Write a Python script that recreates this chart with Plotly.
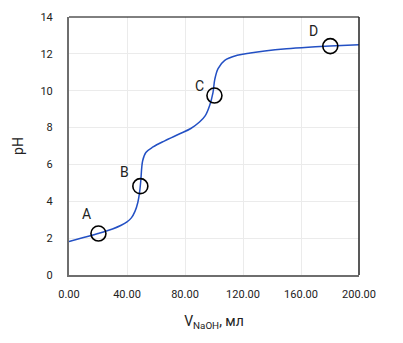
import plotly.graph_objects as go

# Titration curve
v_naoh = [0, 10, 20, 30, 36, 40, 43, 45.5, 47.5, 48.7, 49.5, 50.8, 53, 58, 66, 76, 84, 90,
          94, 97, 99.3, 100.5, 102.8, 107.4, 116, 125, 135, 150, 165, 180, 200]
ph = [1.81, 2.03, 2.25, 2.5, 2.7, 2.88, 3.1, 3.45, 3.95, 4.5, 5.1, 6.2, 6.65, 6.95, 7.28,
      7.65, 7.95, 8.3, 8.65, 9.2, 9.9, 10.6, 11.2, 11.65, 11.92, 12.05, 12.16, 12.28,
      12.36, 12.42, 12.5]

# Marked points
pt_labels = ["A", "B", "C", "D"]
pt_x = [20.3, 49.2, 100.3, 180.2]
pt_y = [2.25, 4.82, 9.74, 12.42]

x_ticks = [0, 40, 80, 120, 160, 200]
x_ticktext = ["0.00", "40.00", "80.00", "120.00", "160.00", "200.00"]
y_ticks = [0, 2, 4, 6, 8, 10, 12, 14]

FONT = "Roboto, Arial, sans-serif"
# label pixel offsets relative to each marker (style only)
label_shift = [(-12, 20), (-16, 14), (-15, 10), (-17, 15)]

fig = go.Figure()
fig.add_trace(go.Scatter(
    x=v_naoh, y=ph, mode="lines",
    line=dict(color="#2350c4", width=1.5, shape="spline", smoothing=1.0),
    hoverinfo="skip", showlegend=False))
fig.add_trace(go.Scatter(
    x=pt_x, y=pt_y, mode="markers",
    marker=dict(size=15, color="rgba(0,0,0,0)", line=dict(color="#000000", width=1.6)),
    hoverinfo="skip", showlegend=False))

for lab, xv, yv, (dx, dy) in zip(pt_labels, pt_x, pt_y, label_shift):
    fig.add_annotation(x=xv, y=yv, text=lab, showarrow=False,
                       xshift=dx, yshift=dy,
                       font=dict(family=FONT, size=14, color="#222222"))

fig.update_layout(
    width=403, height=343,
    margin=dict(l=69, r=44, t=17, b=68),
    paper_bgcolor="white", plot_bgcolor="white",
    font=dict(family=FONT, size=11, color="#222222"),
    xaxis=dict(range=[0, 200], tickvals=x_ticks, ticktext=x_ticktext,
               showgrid=True, gridcolor="#ebebeb", gridwidth=1,
               zeroline=False, showline=True, linecolor="#6e6e6e", linewidth=2,
               ticks="", ticklabelstandoff=8,
               title=dict(text="V<sub>NaOH</sub>, мл", font=dict(size=14), standoff=16)),
    yaxis=dict(range=[0, 14], tickvals=y_ticks,
               showgrid=True, gridcolor="#ebebeb", gridwidth=1,
               zeroline=False, showline=True, linecolor="#6e6e6e", linewidth=2,
               ticks="", ticklabelstandoff=12,
               title=dict(text="pH", font=dict(size=14), standoff=14)),
    shapes=[
        dict(type="line", xref="paper", yref="paper", x0=0, x1=1, y0=1, y1=1,
             line=dict(color="#000000", width=1)),
        dict(type="line", xref="paper", yref="paper", x0=1, x1=1, y0=0, y1=1,
             line=dict(color="#222222", width=1.5)),
    ],
)

fig.write_html("out.html")
